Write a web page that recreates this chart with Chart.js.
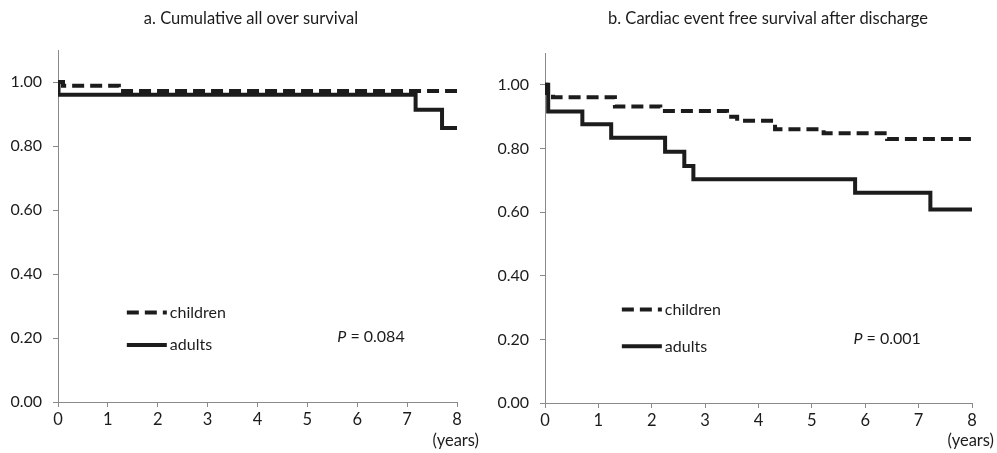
<!DOCTYPE html>
<html>
<head>
<meta charset="utf-8">
<script src="https://cdn.jsdelivr.net/npm/chart.js@4.4.1/dist/chart.umd.min.js"></script>
<style>
  html, body { margin: 0; padding: 0; background: #fff; }
  .wrap { display: flex; width: 997px; height: 453px; }
  .panel { position: relative; height: 453px; }
</style>
</head>
<body>
<div class="wrap">
  <div class="panel" style="width:498px"><canvas id="grafica-a"></canvas></div>
  <div class="panel" style="width:499px"><canvas id="grafica-b"></canvas></div>
</div>
<script>
// tick labels
const xTicks = [0, 1, 2, 3, 4, 5, 6, 7, 8];
const yTicks = [0, 0.2, 0.4, 0.6, 0.8, 1.0];

// a. cumulative all over survival
const aChildrenT = [0, 0.1, 1.22, 8];
const aChildrenS = [1.0, 0.988, 0.972, 0.972];
const aAdultsT = [0, 0.01, 7.17, 7.7, 8];
const aAdultsS = [1.0, 0.96, 0.913, 0.856, 0.856];

// b. cardiac event free survival after discharge
const bChildrenT = [0, 0.03, 0.15, 1.31, 2.16, 3.41, 3.6, 4.31, 5.22, 6.41, 8];
const bChildrenS = [1.0, 0.974, 0.961, 0.932, 0.918, 0.9, 0.887, 0.86, 0.848, 0.83, 0.83];
const bAdultsT = [0, 0.06, 0.7, 1.24, 2.25, 2.61, 2.78, 5.81, 7.22, 8];
const bAdultsS = [1.0, 0.916, 0.876, 0.834, 0.79, 0.745, 0.703, 0.661, 0.608, 0.608];

const FONT = "Lato, 'Open Sans', sans-serif";
const INK = "#1c1c1c";
const AXIS = "#8a8a8a";

function puntos(ts, ss) {
  return ts.map((t, i) => ({ x: t, y: ss[i] }));
}

const extras = {
  id: "kmExtras",
  afterDraw(chart, args, opts) {
    const ctx = chart.ctx;
    const xs = chart.scales.x;
    const ys = chart.scales.y;
    ctx.save();
    ctx.fillStyle = INK;

    // title
    ctx.font = "16.5px " + FONT;
    ctx.textAlign = "center";
    ctx.textBaseline = "middle";
    ctx.fillText(opts.title, opts.titleX, 19);

    // legend
    const lx = xs.getPixelForValue(opts.legendX);
    const rows = [
      { y: opts.legendY1, dash: [12, 6], text: "children" },
      { y: opts.legendY2, dash: [], text: "adults" },
    ];
    ctx.font = "16px " + FONT;
    ctx.textAlign = "left";
    rows.forEach((r) => {
      const py = ys.getPixelForValue(r.y);
      ctx.strokeStyle = INK;
      ctx.lineWidth = 4;
      ctx.setLineDash(r.dash);
      ctx.beginPath();
      ctx.moveTo(lx, py);
      ctx.lineTo(lx + 40, py);
      ctx.stroke();
      ctx.setLineDash([]);
      ctx.fillText(r.text, lx + 43, py);
    });

    // p value
    const px = xs.getPixelForValue(opts.pX);
    const py = ys.getPixelForValue(opts.pY);
    ctx.font = "italic 16px " + FONT;
    ctx.fillText("P", px, py);
    const w = ctx.measureText("P").width;
    ctx.font = "16px " + FONT;
    ctx.fillText(" = " + opts.pText, px + w, py);

    // unit
    ctx.textAlign = "right";
    ctx.font = "16.5px " + FONT;
    ctx.fillText("(years)", chart.chartArea.right + opts.unitDx, 441);
    ctx.restore();
  },
};

function grafica(id, series, ajustes) {
  const ctx = document.getElementById(id);
  return new Chart(ctx, {
    type: "line",
    data: {
      datasets: [
        {
          label: "children",
          data: puntos(series.childrenT, series.childrenS),
          borderColor: INK,
          borderWidth: 4,
          borderDash: [12, 6],
          stepped: true,
          pointRadius: 0,
          fill: false,
        },
        {
          label: "adults",
          data: puntos(series.adultsT, series.adultsS),
          borderColor: INK,
          borderWidth: 4,
          stepped: true,
          pointRadius: 0,
          fill: false,
        },
      ],
    },
    options: {
      responsive: true,
      maintainAspectRatio: false,
      animation: false,
      layout: {
        padding: { top: ajustes.top, right: ajustes.right, left: 0, bottom: 0 },
      },
      scales: {
        x: {
          type: "linear",
          min: 0,
          max: 8,
          afterBuildTicks: (s) => { s.ticks = xTicks.map((v) => ({ value: v })); },
          afterFit: (s) => { s.height = ajustes.bottom; },
          ticks: { color: INK, font: { family: FONT, size: 16.5 }, padding: 3, maxRotation: 0 },
          grid: { display: true, drawOnChartArea: false, drawTicks: true, tickLength: 5, color: AXIS },
          border: { display: true, color: AXIS, width: 1 },
        },
        y: {
          min: 0,
          max: 1.1,
          afterBuildTicks: (s) => { s.ticks = yTicks.map((v) => ({ value: v })); },
          afterFit: (s) => { s.width = ajustes.yWidth; },
          ticks: {
            color: INK,
            font: { family: FONT, size: 16 },
            padding: 11,
            callback: (v) => Number(v).toFixed(2),
          },
          grid: { display: true, drawOnChartArea: false, drawTicks: true, tickLength: 5, color: AXIS },
          border: { display: true, color: AXIS, width: 1 },
        },
      },
      plugins: {
        legend: { display: false },
        tooltip: { enabled: false },
        kmExtras: ajustes.extras,
      },
    },
    plugins: [extras],
  });
}

grafica(
  "grafica-a",
  { childrenT: aChildrenT, childrenS: aChildrenS, adultsT: aAdultsT, adultsS: aAdultsS },
  {
    top: 50, right: 41, bottom: 51, yWidth: 58,
    extras: {
      title: "a. Cumulative all over survival", titleX: 251,
      legendX: 1.38, legendY1: 0.28, legendY2: 0.178,
      pX: 5.6, pY: 0.203, pText: "0.084", unitDx: 22,
    },
  }
);

grafica(
  "grafica-b",
  { childrenT: bChildrenT, childrenS: bChildrenS, adultsT: bAdultsT, adultsS: bAdultsS },
  {
    top: 53, right: 25, bottom: 50, yWidth: 47,
    extras: {
      title: "b. Cardiac event free survival after discharge", titleX: 270,
      legendX: 1.44, legendY1: 0.294, legendY2: 0.178,
      pX: 5.78, pY: 0.203, pText: "0.001", unitDx: 22,
    },
  }
);
</script>
</body>
</html>
